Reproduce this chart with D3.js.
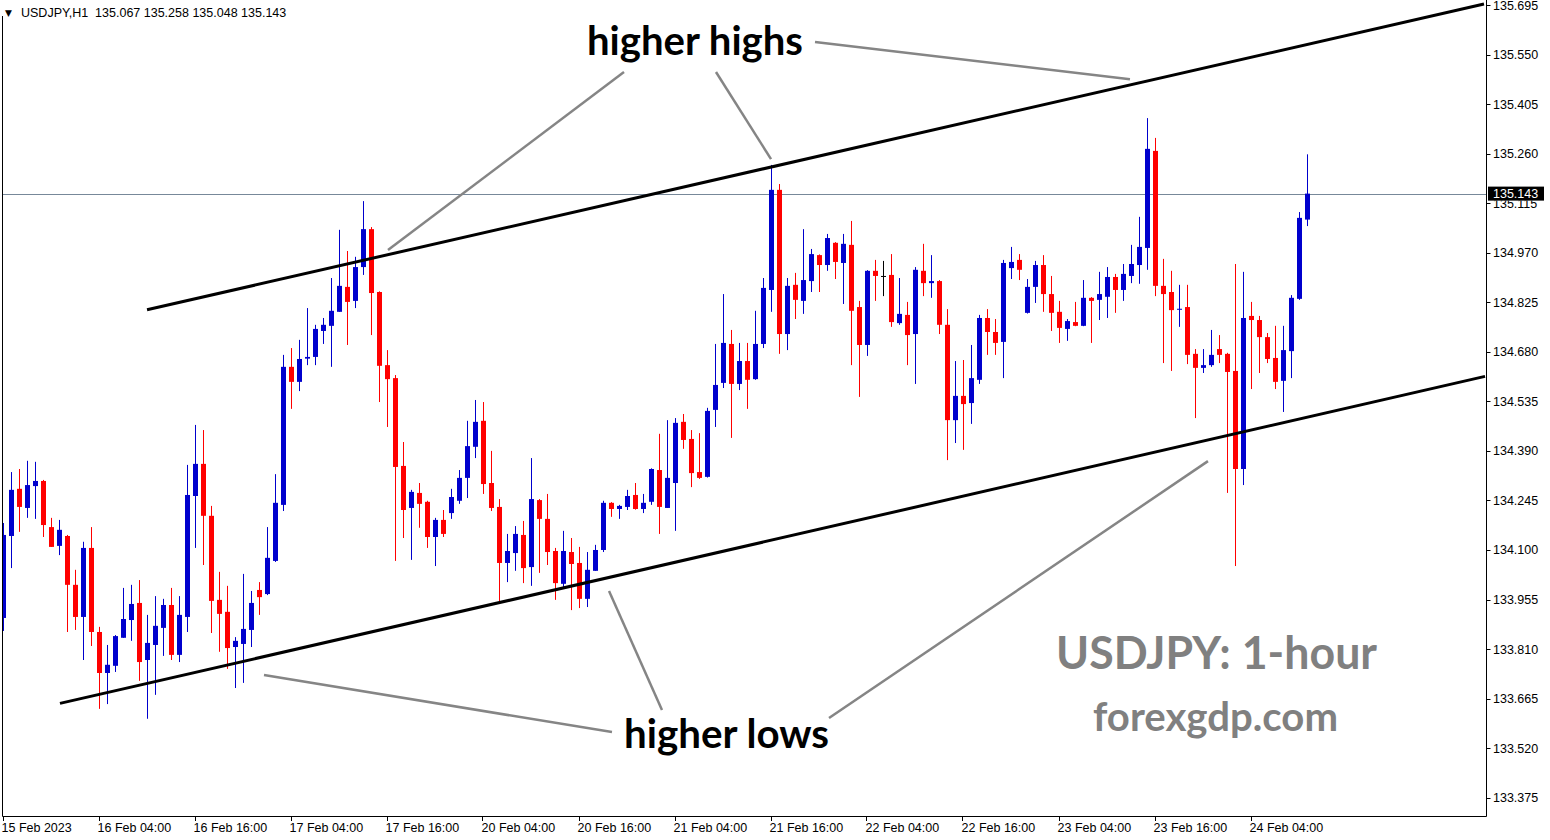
<!DOCTYPE html>
<html>
<head>
<meta charset="utf-8">
<script src="https://cdn.jsdelivr.net/npm/d3@7/dist/d3.min.js"></script>
<style>
  html, body { margin: 0; padding: 0; background: #ffffff; }
  svg { display: block; }
</style>
</head>
<body>
<div id="chart"></div>
<script>
// ---------------- DATA ----------------
const symbol = "USDJPY,H1";
const lastOHLC = ["135.067", "135.258", "135.048", "135.143"];
const currentPrice = 135.143;

const opens = [
133.901,134.141,134.279,134.223,134.287,134.302,134.167,134.112,134.141,133.998,
133.904,134.106,133.860,133.740,133.761,133.843,133.895,133.945,133.778,133.822,
133.872,133.939,133.793,133.904,134.258,134.352,134.200,133.954,133.919,133.816,
133.825,133.866,133.983,133.971,134.068,134.232,134.636,134.592,134.660,134.665,
134.741,134.756,134.797,134.870,134.829,134.928,135.039,134.855,134.641,134.603,
134.346,134.223,134.267,134.241,134.138,134.188,134.208,134.244,134.311,134.402,
134.478,134.296,134.226,134.062,134.091,134.144,134.050,134.246,134.191,134.097,
134.001,134.094,134.062,133.957,134.039,134.100,134.238,134.220,134.226,134.261,
134.220,134.241,134.334,134.223,134.296,134.475,134.425,134.328,134.314,134.510,
134.589,134.703,134.586,134.653,134.600,134.703,134.861,135.154,134.732,134.876,
134.829,134.887,134.963,134.934,134.999,134.940,134.993,134.811,134.700,134.917,
134.902,134.905,134.764,134.788,134.732,134.917,134.881,134.887,134.759,134.480,
134.551,134.530,134.598,134.779,134.738,134.709,134.925,134.949,134.794,134.870,
134.934,134.849,134.797,134.747,134.767,134.756,134.838,134.832,134.841,134.899,
134.861,134.902,134.934,134.984,135.268,134.873,134.855,134.803,134.811,134.674,
134.633,134.641,134.688,134.674,134.624,134.337,134.785,134.773,134.723,134.662,
134.595,134.682,134.835,135.067];

const highs = [
134.179,134.328,134.337,134.361,134.358,134.305,134.194,134.188,134.144,134.042,
134.124,134.167,133.875,133.822,133.851,133.989,133.998,134.012,133.910,133.965,
133.957,133.989,133.965,134.349,134.466,134.451,134.229,134.036,133.995,133.845,
134.030,133.980,134.006,134.167,134.322,134.671,134.691,134.715,134.808,134.759,
134.779,134.896,135.037,134.975,134.958,135.121,135.045,134.857,134.685,134.612,
134.416,134.276,134.296,134.244,134.194,134.217,134.279,134.334,134.478,134.539,
134.533,134.390,134.249,134.147,134.170,134.185,134.369,134.249,134.264,134.106,
134.156,134.135,134.109,134.094,134.115,134.244,134.240,134.232,134.276,134.296,
134.264,134.339,134.440,134.480,134.486,134.498,134.451,134.442,134.516,134.703,
134.849,134.744,134.706,134.706,134.800,134.896,135.227,135.171,134.896,134.911,
135.039,134.981,134.965,135.025,135.001,135.025,135.063,134.829,134.919,134.949,
134.946,134.966,134.896,134.826,134.928,134.996,134.963,134.890,134.805,134.653,
134.656,134.700,134.788,134.805,134.776,134.949,134.987,134.966,134.893,134.946,
134.963,134.902,134.829,134.776,134.826,134.890,134.840,134.914,134.928,134.908,
134.937,134.993,135.075,135.364,135.306,134.952,134.917,134.876,134.876,134.688,
134.688,134.744,134.729,134.677,134.937,134.914,134.826,134.785,134.735,134.756,
134.756,134.846,135.089,135.258];

const lows = [
133.863,134.047,134.153,134.194,134.191,134.138,134.109,134.085,133.860,133.866,
133.778,133.819,133.635,133.649,133.743,133.843,133.834,133.717,133.606,133.676,
133.790,133.778,133.772,133.860,134.106,134.056,133.857,133.802,133.752,133.696,
133.711,133.816,133.910,133.968,134.065,134.214,134.513,134.565,134.641,134.641,
134.703,134.636,134.797,134.700,134.808,134.905,134.729,134.533,134.460,134.068,
134.135,134.071,134.165,134.106,134.053,134.138,134.191,134.235,134.252,134.369,
134.264,134.214,133.948,134.006,134.039,134.003,133.995,134.033,134.056,133.954,
133.986,133.924,133.930,133.933,134.039,134.094,134.197,134.191,134.217,134.218,
134.208,134.232,134.147,134.223,134.156,134.396,134.284,134.308,134.312,134.460,
134.574,134.428,134.568,134.513,134.598,134.691,134.797,134.674,134.685,134.776,
134.791,134.855,134.855,134.917,134.893,134.820,134.641,134.548,134.668,134.829,
134.843,134.753,134.759,134.641,134.586,134.843,134.838,134.732,134.363,134.413,
134.393,134.469,134.586,134.671,134.671,134.603,134.893,134.890,134.792,134.823,
134.797,134.741,134.706,134.712,134.755,134.755,134.706,134.773,134.779,134.794,
134.829,134.881,134.879,134.920,134.843,134.647,134.624,134.753,134.644,134.486,
134.618,134.636,134.647,134.267,134.053,134.290,134.571,134.618,134.647,134.571,
134.504,134.603,134.832,135.048];

const closes = [
134.144,134.276,134.226,134.290,134.302,134.173,134.109,134.159,133.998,133.904,
134.106,133.860,133.740,133.764,133.848,133.898,133.942,133.772,133.828,133.878,
133.939,133.793,133.910,134.261,134.352,134.200,133.951,133.913,133.813,133.834,
133.869,133.945,133.962,134.077,134.238,134.636,134.592,134.659,134.665,134.747,
134.759,134.800,134.873,134.826,134.928,135.039,134.852,134.639,134.600,134.343,
134.217,134.270,134.235,134.138,134.188,134.147,134.255,134.311,134.404,134.475,
134.293,134.223,134.062,134.097,134.147,134.047,134.249,134.191,134.094,134.003,
134.097,134.059,133.957,134.042,134.100,134.238,134.220,134.229,134.258,134.220,
134.238,134.337,134.226,134.311,134.472,134.422,134.325,134.311,134.507,134.583,
134.706,134.586,134.653,134.598,134.703,134.867,135.154,134.732,134.873,134.832,
134.890,134.966,134.934,135.013,134.943,134.996,134.800,134.700,134.917,134.902,
134.902,134.767,134.791,134.729,134.920,134.881,134.887,134.759,134.480,134.551,
134.527,134.603,134.779,134.738,134.706,134.940,134.943,134.920,134.870,134.934,
134.849,134.794,134.750,134.770,134.756,134.838,134.829,134.849,134.899,134.861,
134.908,134.937,134.987,135.274,134.873,134.849,134.802,134.806,134.671,134.633,
134.641,134.671,134.671,134.621,134.337,134.779,134.773,134.723,134.659,134.592,
134.685,134.838,135.072,135.143];

// Price axis ticks
const priceTicks = [135.695,135.550,135.405,135.260,135.115,134.970,134.825,134.680,
                    134.535,134.390,134.245,134.100,133.955,133.810,133.665,133.520,133.375];

// Time axis labels (every 12 bars)
const timeTickBars = [0,12,24,36,48,60,72,84,96,108,120,132,144,156];
const timeTickLabels = ["15 Feb 2023","16 Feb 04:00","16 Feb 16:00","17 Feb 04:00","17 Feb 16:00",
  "20 Feb 04:00","20 Feb 16:00","21 Feb 04:00","21 Feb 16:00","22 Feb 04:00",
  "22 Feb 16:00","23 Feb 04:00","23 Feb 16:00","24 Feb 04:00"];

// Channel trend lines: [barIndex, price] end points
const upperChannel = [[17.94, 134.803], [185.06, 135.698]];
const lowerChannel = [[7.06, 133.651], [185.19, 134.608]];

// Annotation pointer lines: [barIndex, price] pairs
const pointerLines = [
  [[77.56, 135.499], [48.06, 134.978]],
  [[89.06, 135.499], [95.94, 135.244]],
  [[101.44, 135.587], [140.81, 135.478]],
  [[32.56, 133.734], [76.06, 133.567]],
  [[75.69, 133.980], [82.31, 133.632]],
  [[103.19, 133.608], [150.56, 134.360]]
];

// ---------------- CHART ----------------
const W = 1550, H = 840;
const plotLeft = 2.5, plotRight = 1486, plotTop = 0, plotBottom = 816;
const axisFont = 12.5;

const svg = d3.select("#chart").append("svg")
  .attr("width", W).attr("height", H)
  .style("font-family", "'Liberation Sans', Arial, sans-serif");

svg.append("rect").attr("width", W).attr("height", H).attr("fill", "#ffffff");

const x = d3.scaleLinear().domain([0, 163]).range([3.5, 3.5 + 8 * 163]);
const y = d3.scaleLinear().domain([133.375, 135.695]).range([797.7, 5]);

svg.append("defs").append("clipPath").attr("id", "plotclip")
  .append("rect").attr("x", plotLeft).attr("y", plotTop)
  .attr("width", plotRight - plotLeft).attr("height", plotBottom - plotTop);

const plot = svg.append("g").attr("clip-path", "url(#plotclip)");

// current price line
plot.append("line")
  .attr("x1", plotLeft).attr("x2", plotRight)
  .attr("y1", Math.round(y(currentPrice)) + 0.5).attr("y2", Math.round(y(currentPrice)) + 0.5)
  .attr("stroke", "#778899").attr("stroke-width", 1);

// candles
const bars = d3.range(opens.length).map(i => ({
  i, o: opens[i], h: highs[i], l: lows[i], c: closes[i]
}));
const colorOf = d => d.c > d.o ? "#0000cd" : (d.c < d.o ? "#ff0000" : "#000000");

const cg = plot.append("g");
cg.selectAll("line.wick").data(bars).join("line")
  .attr("class", "wick")
  .attr("x1", d => x(d.i)).attr("x2", d => x(d.i))
  .attr("y1", d => y(d.h)).attr("y2", d => y(d.l))
  .attr("stroke", colorOf).attr("stroke-width", 1);

cg.selectAll("rect.body").data(bars).join("rect")
  .attr("class", "body")
  .attr("x", d => x(d.i) - 2.5)
  .attr("width", 5)
  .attr("y", d => y(Math.max(d.o, d.c)))
  .attr("height", d => Math.max(1, y(Math.min(d.o, d.c)) - y(Math.max(d.o, d.c))))
  .attr("fill", colorOf);

// channel lines
const lineGen = d3.line().x(d => x(d[0])).y(d => y(d[1]));
plot.selectAll("path.channel").data([upperChannel, lowerChannel]).join("path")
  .attr("class", "channel")
  .attr("d", lineGen)
  .attr("fill", "none").attr("stroke", "#000000").attr("stroke-width", 3);

// pointer lines
plot.selectAll("path.pointer").data(pointerLines).join("path")
  .attr("class", "pointer")
  .attr("d", lineGen)
  .attr("fill", "none").attr("stroke", "#858585").attr("stroke-width", 2.5);

// annotation texts
const bigFont = "Lato, 'Open Sans', sans-serif";
svg.append("text").attr("x", 587).attr("y", 55)
  .attr("font-family", bigFont).attr("font-weight", "bold").attr("font-size", 41)
  .attr("textLength", 216).attr("lengthAdjust", "spacingAndGlyphs")
  .attr("fill", "#000").text("higher highs");
svg.append("text").attr("x", 624).attr("y", 748)
  .attr("font-family", bigFont).attr("font-weight", "bold").attr("font-size", 41)
  .attr("textLength", 205).attr("lengthAdjust", "spacingAndGlyphs")
  .attr("fill", "#000").text("higher lows");
svg.append("text").attr("x", 1056).attr("y", 669)
  .attr("font-family", bigFont).attr("font-weight", "bold").attr("font-size", 46)
  .attr("textLength", 321).attr("lengthAdjust", "spacingAndGlyphs")
  .attr("fill", "#808080").text("USDJPY: 1-hour");
svg.append("text").attr("x", 1093).attr("y", 731)
  .attr("font-family", bigFont).attr("font-weight", "bold").attr("font-size", 40)
  .attr("textLength", 245).attr("lengthAdjust", "spacingAndGlyphs")
  .attr("fill", "#808080").text("forexgdp.com");

// frame
svg.append("line").attr("x1", plotLeft).attr("x2", plotLeft).attr("y1", 16).attr("y2", plotBottom + 0.5)
  .attr("stroke", "#000").attr("stroke-width", 1);
svg.append("line").attr("x1", plotLeft).attr("x2", plotRight + 0.5).attr("y1", plotBottom + 0.5).attr("y2", plotBottom + 0.5)
  .attr("stroke", "#000").attr("stroke-width", 1);
svg.append("line").attr("x1", plotRight + 0.5).attr("x2", plotRight + 0.5).attr("y1", 0).attr("y2", plotBottom + 0.5)
  .attr("stroke", "#000").attr("stroke-width", 1);

// right price axis
const yAxis = svg.append("g");
yAxis.selectAll("line").data(priceTicks).join("line")
  .attr("x1", plotRight + 0.5).attr("x2", plotRight + 4.5)
  .attr("y1", d => Math.round(y(d)) + 0.5).attr("y2", d => Math.round(y(d)) + 0.5)
  .attr("stroke", "#000");
yAxis.selectAll("text").data(priceTicks.filter(d => Math.abs(y(d) - y(currentPrice)) > 14)).join("text")
  .attr("x", 1493).attr("y", d => y(d) + 4.5)
  .attr("font-size", axisFont).attr("fill", "#000")
  .text(d => d.toFixed(3));

// the tick label hidden behind the current-price box: only its lower edge shows
const hiddenTick = priceTicks.filter(d => Math.abs(y(d) - y(currentPrice)) <= 14);
svg.append("clipPath").attr("id", "belowbox")
  .append("rect").attr("x", 1488).attr("y", y(currentPrice) + 7).attr("width", 62).attr("height", 12);
svg.append("g").attr("clip-path", "url(#belowbox)")
  .selectAll("text").data(hiddenTick).join("text")
  .attr("x", 1493).attr("y", d => y(d) + 4.5)
  .attr("font-size", axisFont).attr("fill", "#000")
  .text(d => d.toFixed(3));

// current price label
const cpY = y(currentPrice);
svg.append("rect").attr("x", 1488).attr("y", cpY - 7).attr("width", 56).attr("height", 14)
  .attr("fill", "#000");
svg.append("text").attr("x", 1493).attr("y", cpY + 4.5)
  .attr("font-size", axisFont).attr("fill", "#fff").text(currentPrice.toFixed(3));

// bottom time axis
const xAxis = svg.append("g");
xAxis.selectAll("line").data(timeTickBars).join("line")
  .attr("x1", d => Math.round(x(d)) - 0.5).attr("x2", d => Math.round(x(d)) - 0.5)
  .attr("y1", plotBottom + 0.5).attr("y2", plotBottom + 5)
  .attr("stroke", "#000");
xAxis.selectAll("text").data(timeTickBars).join("text")
  .attr("x", d => x(d) - 2).attr("y", 832)
  .attr("font-size", axisFont).attr("fill", "#000")
  .text((d, i) => timeTickLabels[i]);

// top-left title
svg.append("text").attr("x", 5).attr("y", 16).attr("font-size", 9)
  .attr("font-family", "'DejaVu Sans', sans-serif").attr("fill", "#000").text("▼");
svg.append("text").attr("x", 21).attr("y", 17).attr("font-size", 12.5).attr("fill", "#000")
  .attr("xml:space", "preserve")
  .text(symbol + "  " + lastOHLC.join(" "));
</script>
</body>
</html>
